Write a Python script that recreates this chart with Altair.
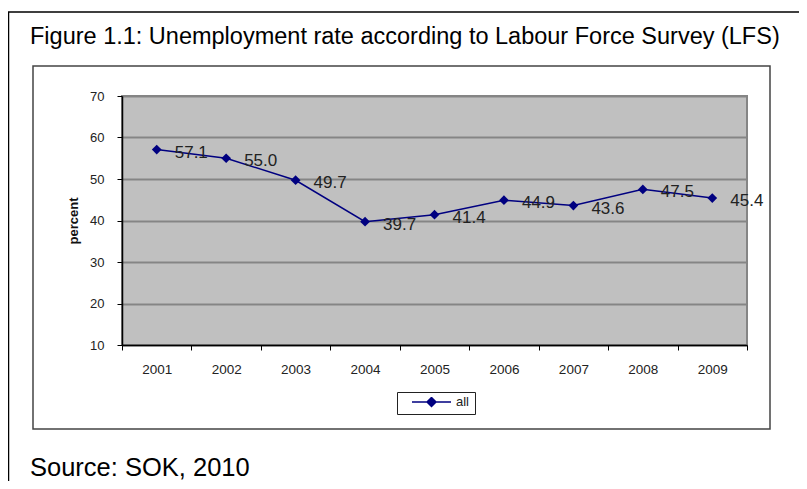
import altair as alt
import pandas as pd

years = ["2001", "2002", "2003", "2004", "2005", "2006", "2007", "2008", "2009"]
rates = [57.1, 55.0, 49.7, 39.7, 41.4, 44.9, 43.6, 47.5, 45.4]
series_name = "all"
y_ticks = [10, 20, 30, 40, 50, 60, 70]

title_text = "Figure 1.1: Unemployment rate according to Labour Force Survey (LFS)"
source_text = "Source: SOK, 2010"
y_title = "percent"

df = pd.DataFrame({"year": years, "rate": rates, "series": [series_name] * len(years)})

FONT = "Liberation Sans"
NAVY = "#000080"

base = alt.Chart(df).encode(
    x=alt.X(
        "year:O",
        scale=alt.Scale(type="band", paddingInner=0, paddingOuter=0),
        axis=alt.Axis(
            title=None, labelAngle=0, tickBand="extent", grid=False,
            labelFont=FONT, labelFontSize=13.5, labelColor="#222",
            labelPadding=12, tickSize=5, tickColor="#000",
            domainColor="#000", domainWidth=1.5,
        ),
    ),
    y=alt.Y(
        "rate:Q",
        scale=alt.Scale(domain=[10, 70], nice=False, zero=False),
        axis=alt.Axis(
            values=y_ticks, title=y_title, grid=True,
            gridColor="#858585", gridWidth=2,
            labelFont=FONT, labelFontSize=13, labelColor="#222",
            labelPadding=13, tickSize=5, tickColor="#000",
            domainColor="#000", domainWidth=1.5,
            titleFont=FONT, titleFontSize=13, titleFontWeight="bold",
            titleColor="#111", titleAngle=270, titleX=-49, titleY=124.5,
            titleAlign="center", titleBaseline="middle",
        ),
    ),
)

deco = alt.Data(values=[{}])

outer_frame = alt.Chart(deco).mark_rect(
    fillOpacity=0, stroke="#000", strokeWidth=1.5
).encode(x=alt.value(-113.5), x2=alt.value(720), y=alt.value(-84), y2=alt.value(420))

inner_box = alt.Chart(deco).mark_rect(
    fillOpacity=0, stroke="#444", strokeWidth=1.5
).encode(x=alt.value(-89), x2=alt.value(648), y=alt.value(-30), y2=alt.value(333))

title = alt.Chart(deco).mark_text(
    text=title_text, align="left", baseline="alphabetic",
    font=FONT, fontSize=23.5, color="#000"
).encode(x=alt.value(-92), y=alt.value(-52))

source = alt.Chart(deco).mark_text(
    text=source_text, align="left", baseline="alphabetic",
    font=FONT, fontSize=25.5, color="#000"
).encode(x=alt.value(-92), y=alt.value(380))

line = base.mark_line(color=NAVY, strokeWidth=1.5)

points = base.mark_point(shape="diamond", filled=True, size=95, opacity=1).encode(
    color=alt.Color(
        "series:N",
        scale=alt.Scale(range=[NAVY]),
        legend=alt.Legend(
            title=None, orient="none", legendX=275, legendY=296,
            symbolType="M-1,0H1M0,-0.23L0.23,0L0,0.23L-0.23,0Z",
            symbolSize=1521, symbolOffset=9, padding=5, clipHeight=10,
            labelFont=FONT, labelFontSize=13, labelColor="#222", labelOffset=4,
            strokeColor="#222", fillColor="white",
            symbolFillColor=NAVY, symbolStrokeColor=NAVY,
            symbolStrokeWidth=1.5, symbolOpacity=1,
        ),
    )
)

labels = base.mark_text(
    align="left", baseline="middle", dx=18, dy=3,
    font=FONT, fontSize=17, color="#222"
).encode(text=alt.Text("rate:Q", format=".1f"))

chart = alt.layer(outer_frame, inner_box, title, source, line, points, labels).properties(
    width=625, height=249,
    autosize=alt.AutoSizeParams(type="none"),
    padding={"left": 114, "top": 88, "right": 52, "bottom": 136},
    background="white",
).configure_view(fill="#C0C0C0", stroke="#858585", strokeWidth=2)

chart.save("out.html", embed_options={"renderer": "svg", "actions": False})
